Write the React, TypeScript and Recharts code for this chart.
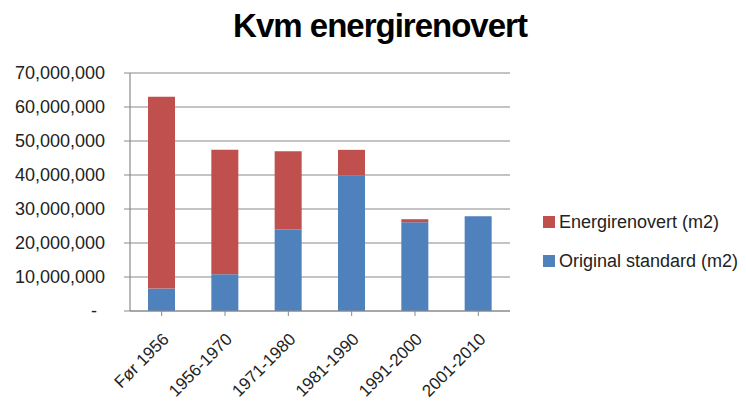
import React from "react";
import { BarChart, Bar, XAxis, YAxis, CartesianGrid } from "recharts";

const categories = ["Før 1956", "1956-1970", "1971-1980", "1981-1990", "1991-2000", "2001-2010"];
const originalStandard = [6600000, 10800000, 24000000, 39800000, 26100000, 27900000];
const energirenovert = [56400000, 36600000, 23000000, 7600000, 900000, 0];
const yTicks = [0, 10000000, 20000000, 30000000, 40000000, 50000000, 60000000, 70000000];

const data = categories.map((c, i) => ({
  name: c,
  original: originalStandard[i],
  energi: energirenovert[i],
}));

const BLUE = "#4F81BD";
const RED = "#C0504D";
const GRID = "#8a8a8a";
const FONT = "'Liberation Sans', Arial, sans-serif";

const fmt = (v: number) => (v === 0 ? "-" : v.toLocaleString("en-US"));

const YTick = (props: any) => {
  const { x, y, payload } = props;
  const isZero = payload.value === 0;
  return (
    <text
      x={isZero ? x - 8 : x}
      y={y}
      dy={6}
      textAnchor="end"
      fontFamily={FONT}
      fontSize={18}
      fill="#222"
    >
      {fmt(payload.value)}
    </text>
  );
};

const XTick = (props: any) => {
  const { x, y, payload } = props;
  return (
    <g transform={`translate(${x + 4},${y + 18})`}>
      <text
        x={0}
        y={0}
        dy={6}
        textAnchor="end"
        transform="rotate(-45)"
        fontFamily={FONT}
        fontSize={17}
        fill="#222"
      >
        {payload.value}
      </text>
    </g>
  );
};

export default function App() {
  return (
    <div style={{ position: "absolute", left: 0, top: 0, width: 746, height: 403, background: "#fff" }}>
      <div
        style={{
          position: "absolute",
          left: 0,
          top: 7,
          width: 760,
          textAlign: "center",
          fontFamily: FONT,
          fontWeight: "bold",
          fontSize: 33,
          letterSpacing: -1,
          color: "#000",
        }}
      >
        Kvm energirenovert
      </div>
      <BarChart
        width={746}
        height={403}
        data={data}
        margin={{ top: 73, right: 236, bottom: 0, left: 0 }}
        barSize={27}
      >
        <CartesianGrid vertical={false} stroke={GRID} strokeWidth={1.2} />
        <XAxis
          dataKey="name"
          height={92}
          tick={<XTick />}
          tickLine={{ stroke: GRID }}
          axisLine={{ stroke: GRID, strokeWidth: 1.2 }}
          tickSize={5}
          interval={0}
        />
        <YAxis
          width={130}
          domain={[0, 70000000]}
          ticks={yTicks}
          tick={<YTick />}
          tickLine={{ stroke: GRID }}
          axisLine={{ stroke: GRID, strokeWidth: 1.2 }}
          tickSize={6}
          tickMargin={19}
        />
        <Bar dataKey="original" stackId="a" fill={BLUE} isAnimationActive={false} />
        <Bar dataKey="energi" stackId="a" fill={RED} isAnimationActive={false} />
      </BarChart>
      <div style={{ position: "absolute", left: 543, top: 211, fontFamily: FONT, fontSize: 18, color: "#222", whiteSpace: "nowrap" }}>
        <div style={{ display: "flex", alignItems: "center", height: 22 }}>
          <span style={{ display: "inline-block", width: 12, height: 12, background: RED, marginRight: 4 }} />
          <span>Energirenovert (m2)</span>
        </div>
        <div style={{ display: "flex", alignItems: "center", height: 22, marginTop: 17 }}>
          <span style={{ display: "inline-block", width: 12, height: 12, background: BLUE, marginRight: 4 }} />
          <span>Original standard (m2)</span>
        </div>
      </div>
    </div>
  );
}
